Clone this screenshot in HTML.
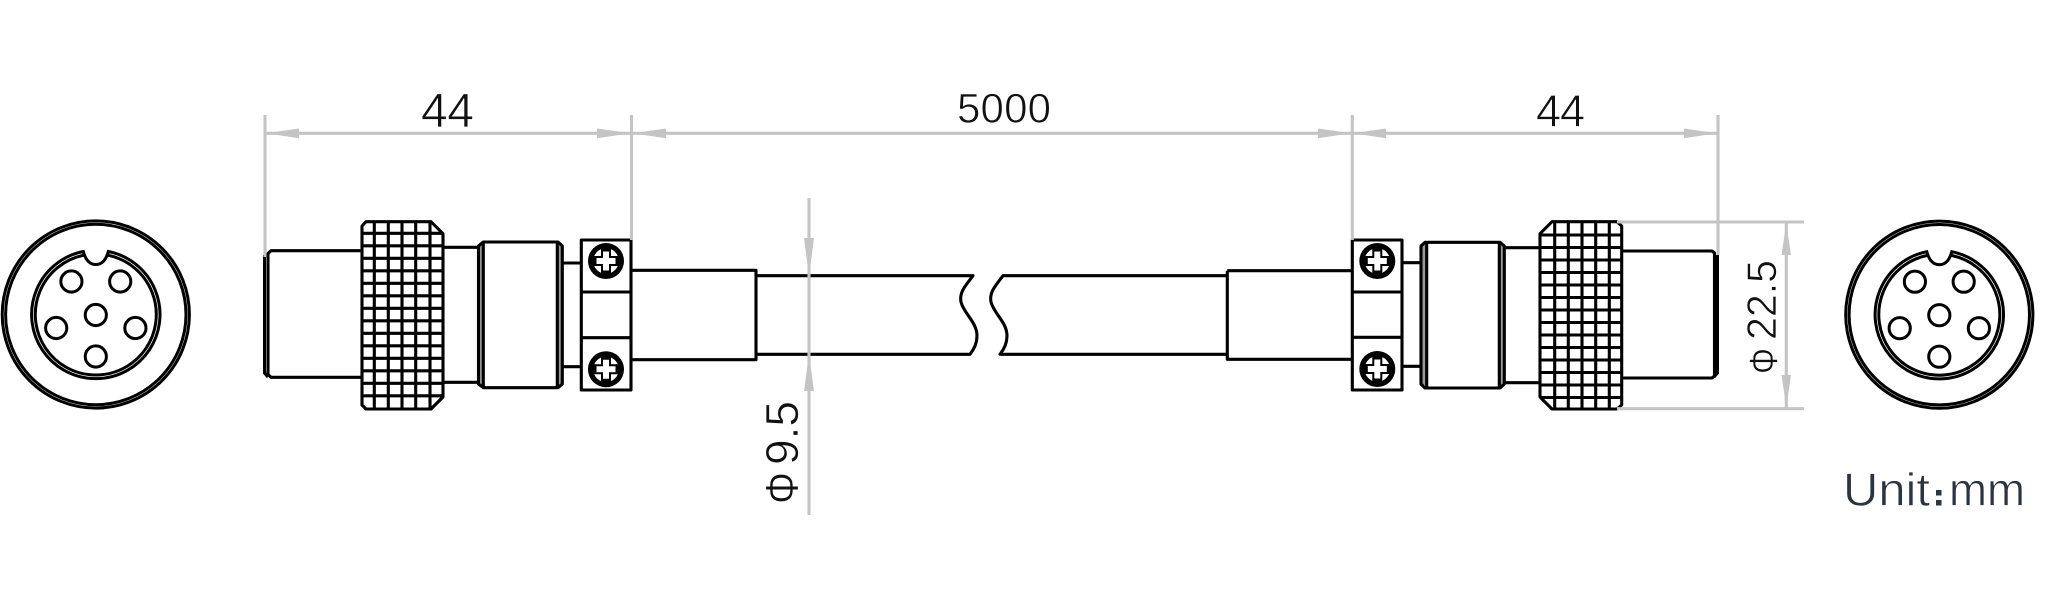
<!DOCTYPE html>
<html>
<head>
<meta charset="utf-8">
<style>
html,body{margin:0;padding:0;background:#fff;width:2048px;height:614px;overflow:hidden}
svg{display:block}
text{font-family:"Liberation Sans",sans-serif;fill:#111;stroke:#fff;stroke-width:.7;paint-order:normal}
.k{fill:none;stroke:#000;stroke-width:3.1;stroke-linejoin:round}
.t{fill:none;stroke:#000;stroke-width:3}
.g{fill:none;stroke:#c4c4c4;stroke-width:3.1}
.a{fill:#c4c4c4;stroke:none}
</style>
</head>
<body>
<svg width="2048" height="614" viewBox="0 0 2048 614" xmlns="http://www.w3.org/2000/svg">
<defs>
<g id="face">
<circle class="t" r="93.6"/>
<circle class="t" r="90.2"/>
<path class="t" d="M-12.5,-63 A64.2,64.2 0 1 0 12.5,-63 Q9,-50 0,-50 Q-9,-50 -12.5,-63 Z"/>
<path class="t" d="M-12.5,-59.2 A60.5,60.5 0 1 0 12.5,-59.2"/>
<circle class="t" cx="-24.4" cy="-33" r="10.6"/>
<circle class="t" cx="24.4" cy="-33" r="10.6"/>
<circle class="t" cx="0" cy="0.5" r="10.6"/>
<circle class="t" cx="-39.6" cy="13.5" r="10.6"/>
<circle class="t" cx="39.6" cy="13.5" r="10.6"/>
<circle class="t" cx="0" cy="42" r="10.6"/>
</g>
<g id="screw">
<circle r="18" fill="#000"/>
<circle r="12.8" fill="#fff"/>
<path d="M-5,-14V-5H-14V5H-5V14H5V5H14V-5H5V-14Z" fill="#000"/>
<path d="M-3,-9.5V-3H-9.5V3H-3V9.5H3V3H9.5V-3H3V-9.5Z" fill="#fff"/>
</g>
<clipPath id="kl"><path d="M366,221.7H431L443,233.7V397L431,409H366L362,405V226Z"/></clipPath>
<clipPath id="kr"><path d="M1552,221.7H1617L1621.7,226V405L1617,409H1552L1540,397V233.7Z"/></clipPath>
</defs>

<!-- faces -->
<use href="#face" x="95.8" y="314.5"/>
<use href="#face" x="1939.3" y="314.7"/>

<!-- left connector -->
<path class="k" d="M361,250.7H271L268,253.5V374.5L271,377.3H361"/>
<path d="M264.5,255V373L268,377" fill="none" stroke="#000" stroke-width="3"/>
<g class="k" clip-path="url(#kl)">
<path d="M374.3,220V410M388.3,220V410M402,220V410M415.7,220V410M430,220V410"/>
<path d="M360,233.3H445M360,245.8H445M360,258.3H445M360,270.8H445M360,283.3H445M360,295.8H445M360,308.3H445M360,320.8H445M360,333.3H445M360,345.8H445M360,358.3H445M360,370.8H445M360,383.3H445M360,395.8H445"/>
</g>
<path class="k" d="M366,221.7H431L443,233.7V397L431,409H366L362,405V226Z"/>
<path class="k" d="M443,247.3H479M443,382.3H479"/>
<rect x="478.5" y="245" width="5" height="140" fill="#999"/>
<rect x="557.3" y="245" width="5" height="140" fill="#999"/>
<path class="k" d="M483.3,242H558L562.3,246V384L558,387.7H483.3L478.5,384V246Z"/>
<path class="k" d="M483.3,242V387.7M557.3,242V387.7"/>
<path class="k" d="M562,263H581M562,366.7H581"/>
<rect class="k" x="581.3" y="240" width="49.7" height="150"/>
<path class="k" d="M581,292H631M581,337.7H631"/>
<use href="#screw" x="606" y="261"/>
<use href="#screw" x="606" y="369.3"/>
<path class="k" d="M631,270.3H756V359.7H631"/>

<!-- cable -->
<path class="k" d="M756,275.7H973C966,285 959,292 961,302C964,314 977,322 977,336C977,342 975,348 970,354.3H756"/>
<path class="k" d="M1227.3,275.7H1003C996,285 989,292 991,302C994,314 1007,322 1007,336C1007,342 1005,348 1000,354.3H1227.3"/>

<!-- right connector -->
<path class="k" d="M1227.3,270.7H1352.3M1227.3,270.7V359.3H1352.3"/>
<rect class="k" x="1352.3" y="240" width="49.7" height="150"/>
<path class="k" d="M1352,292H1402M1352,337.3H1402"/>
<use href="#screw" x="1377.3" y="261"/>
<use href="#screw" x="1377.3" y="369"/>
<path class="k" d="M1402,262.7H1421M1402,366.3H1421"/>
<rect x="1421" y="245" width="5.5" height="140" fill="#999"/>
<rect x="1499.3" y="245" width="5" height="140" fill="#999"/>
<path class="k" d="M1425,242.3H1500L1504.3,246V384L1500,388H1425L1421,384V246Z"/>
<path class="k" d="M1426.7,242.3V388M1499.3,242.3V388"/>
<path class="k" d="M1504,247.7H1540M1504,382.7H1540"/>
<g class="k" clip-path="url(#kr)">
<path d="M1554.7,220V410M1568.3,220V410M1582,220V410M1595.7,220V410M1609.3,220V410"/>
<path d="M1538,235H1623M1538,247.5H1623M1538,260H1623M1538,272.5H1623M1538,285H1623M1538,297.5H1623M1538,310H1623M1538,322.5H1623M1538,335H1623M1538,347.5H1623M1538,360H1623M1538,372.5H1623M1538,385H1623M1538,397.5H1623"/>
</g>
<path class="k" d="M1552,221.7H1617L1621.7,226V405L1617,409H1552L1540,397V233.7Z"/>
<path class="k" d="M1621,251H1712L1714.5,253V376L1712,378H1621"/>
<path d="M1717.5,255V373L1714,377" fill="none" stroke="#000" stroke-width="3"/>

<!-- dimension lines -->
<path class="g" d="M265,115V257M631.5,115V240M1352.3,115V240M1718,115V255"/>
<path class="g" d="M266,133.3H1718"/>
<path class="a" d="M266,133.3L299,128.5V138.2ZM631,133.3L597,128.5V138.2ZM632,133.3L666,128.5V138.2ZM1351,133.3L1318,128.5V138.2ZM1353,133.3L1386,128.5V138.2ZM1717,133.3L1684,128.5V138.2Z"/>
<path class="g" d="M809,198V515"/>
<path class="a" d="M809,276L804,238H814ZM809,354L804,391H814Z"/>
<path class="g" d="M1617,222H1804M1617,408.7H1804M1786.3,222V408.7"/>
<path class="a" d="M1786.3,223L1781.5,255H1791ZM1786.3,407.5L1781.5,375H1791Z"/>

<!-- labels -->
<text x="421" y="127" font-size="48" textLength="53">44</text>
<text x="957" y="122.7" font-size="42" textLength="94">5000</text>
<text x="1536" y="126.5" font-size="45" textLength="49">44</text>
<text transform="translate(798,465) rotate(-90)" font-size="46" textLength="64" lengthAdjust="spacingAndGlyphs">9.5</text>
<text transform="translate(798,504) rotate(-90)" font-size="46" textLength="32" lengthAdjust="spacingAndGlyphs">Φ</text>
<text transform="translate(1776,340) rotate(-90)" font-size="42" textLength="80" lengthAdjust="spacingAndGlyphs">22.5</text>
<text transform="translate(1777,374) rotate(-90)" font-size="40" textLength="26" lengthAdjust="spacingAndGlyphs">Φ</text>
<text x="1843" y="505.5" font-size="46" textLength="87" lengthAdjust="spacingAndGlyphs" style="fill:#2b3440;stroke-width:.7">Unit</text>
<rect x="1936" y="490" width="5.5" height="5.5" fill="#2b3440"/>
<rect x="1936" y="500" width="5.5" height="5.5" fill="#2b3440"/>
<text x="1949" y="505.5" font-size="46" textLength="76" lengthAdjust="spacingAndGlyphs" style="fill:#2b3440;stroke-width:.7">mm</text>
</svg>
</body>
</html>
